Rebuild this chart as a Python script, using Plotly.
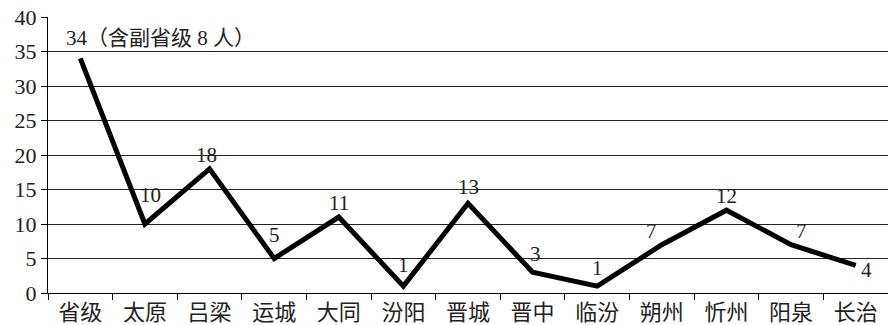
import plotly.graph_objects as go

# Number of people by region
categories = ["省级", "太原", "吕梁", "运城", "大同", "汾阳", "晋城", "晋中", "临汾", "朔州", "忻州", "阳泉", "长治"]
values = [34, 10, 18, 5, 11, 1, 13, 3, 1, 7, 12, 7, 4]
first_note = "（含副省级 8 人）"
y_ticks = [0, 5, 10, 15, 20, 25, 30, 35, 40]

FONT = "Liberation Serif, Times New Roman, Noto Sans CJK SC, serif"
TEXT_COLOR = "#222222"

# pixel nudges for the value labels so they clear the line
label_dx = [-16, 6, -3, 0, 0, 0, 0, 3, 0, -10, 0, 10, 3]
label_dy = [6, 15, 0, 10, 0, 7, 2, 4, 4, 0, 0, 0, -5]

fig = go.Figure()
fig.add_trace(go.Scatter(
    x=categories,
    y=values,
    mode="lines",
    line=dict(color="#000000", width=5),
    cliponaxis=False,
    showlegend=False,
    hoverinfo="x+y",
))

for i, (cat, val) in enumerate(zip(categories, values)):
    if i == 0:
        text, xa, ya = f"{val}{first_note}", "left", "bottom"
    elif i == len(values) - 1:
        text, xa, ya = str(val), "left", "middle"
    else:
        text, xa, ya = str(val), "center", "bottom"
    fig.add_annotation(
        x=cat, y=val, text=text,
        xanchor=xa, yanchor=ya,
        xshift=label_dx[i], yshift=label_dy[i],
        showarrow=False,
        font=dict(family=FONT, size=21, color=TEXT_COLOR),
    )

fig.update_layout(
    width=888, height=325,
    margin=dict(l=48, r=0, t=17, b=30),
    paper_bgcolor="white",
    plot_bgcolor="white",
    font=dict(family=FONT, size=21, color=TEXT_COLOR),
    xaxis=dict(
        type="category",
        showgrid=False,
        showline=True, linecolor="#000000", linewidth=1,
        ticks="outside", tickson="boundaries", ticklen=6, tickcolor="#000000",
        tickfont=dict(family=FONT, size=22, color=TEXT_COLOR),
        range=[-0.5, len(categories) - 0.5],
        fixedrange=True,
    ),
    yaxis=dict(
        range=[0, 40],
        tickvals=y_ticks,
        showgrid=True, gridcolor="#222222", gridwidth=1,
        showline=True, linecolor="#000000", linewidth=1,
        ticks="outside", ticklen=6, tickcolor="#000000",
        tickfont=dict(family=FONT, size=22, color=TEXT_COLOR),
        zeroline=False,
        fixedrange=True,
    ),
)

fig.write_html("out.html")
